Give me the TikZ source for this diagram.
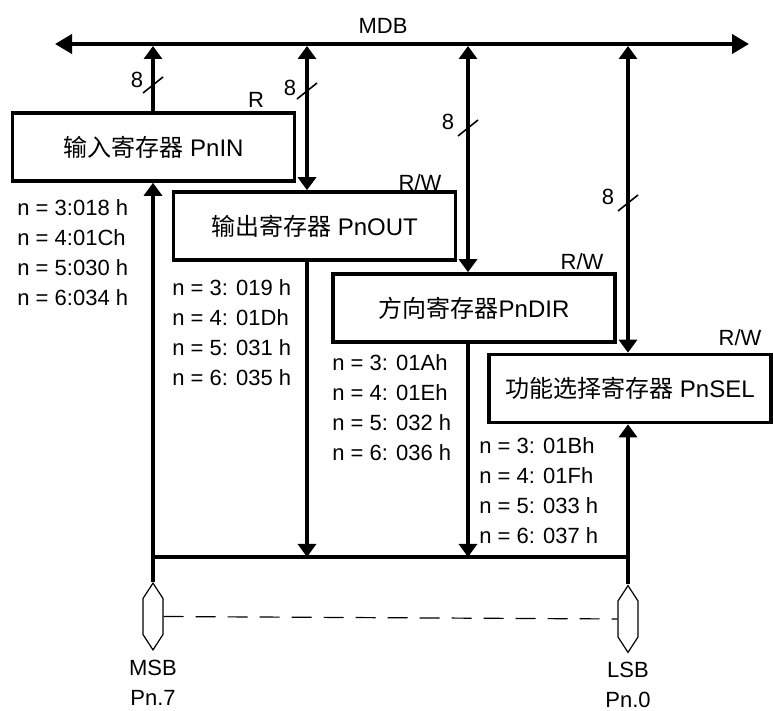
\documentclass[tikz,border=0pt]{standalone}
\usepackage{fontspec}
\setmainfont{Liberation Sans}
\newfontfamily\cjk{Noto Sans CJK SC}
\usepackage{tikz}
\usetikzlibrary{arrows.meta,shapes.symbols}
\newcommand\zhtext[1]{{\cjk #1}}

\begin{document}
\begin{tikzpicture}[
  x=0.5pt,y=-0.5pt,
  font=\fontsize{11}{15}\selectfont,
  reg/.style={draw,line width=1.8pt,minimum width=141pt,minimum height=34pt,
    inner sep=0pt,font=\fontsize{12}{14}\selectfont},
  addr/.style={anchor=north west,align=left,inner sep=0pt},
  wire/.style={line width=1.7pt},
  arrow/.style={wire,-{Triangle[length=6.5pt,width=9pt]}},
  both/.style={wire,{Triangle[length=6.5pt,width=9pt]}-{Triangle[length=6.5pt,width=9pt]}},
  bus/.style={line width=2pt,{Triangle[length=8.5pt,width=9.5pt]}-{Triangle[length=8.5pt,width=9.5pt]}},
  slash/.style={line width=0.8pt},
  port/.style={draw,line width=0.6pt,shape=signal,signal to=north and south,
    signal pointer angle=66,minimum width=10pt,minimum height=18pt,inner sep=0pt}
]
\useasboundingbox (0,0) rectangle (773,711);

\coordinate (mdbl) at (55,44);
\coordinate (mdbr) at (749,44);
\coordinate (t2) at (307,44);
\coordinate (t3) at (468,44);
\coordinate (t4) at (628,44);
\coordinate (bl) at (153,557);
\coordinate (br) at (628,557);

\node[reg] (pnin) at (153.5,147) {\zhtext{输入寄存器} PnIN};
\node[reg] (pnout) at (314.5,226) {\zhtext{输出寄存器} PnOUT};
\node[reg] (pndir) at (474,308) {\zhtext{方向寄存器}PnDIR};
\node[reg] (pnsel) at (630,388.5) {\zhtext{功能选择寄存器} PnSEL};

\node (mdb) at (383,26) {MDB};
\node (accin) at (256,100) {R};
\node (accout) at (420,183) {R/W};
\node (accdir) at (582,262) {R/W};
\node (accsel) at (740,338) {R/W};

\node[addr] (addrin) at (17,199) {n = 3:018 h\\n = 4:01Ch\\n = 5:030 h\\n = 6:034 h};
\node[addr] (addrout) at (172,279) {n = 3: 019 h\\n = 4: 01Dh\\n = 5: 031 h\\n = 6: 035 h};
\node[addr] (addrdir) at (332,354) {n = 3: 01Ah\\n = 4: 01Eh\\n = 5: 032 h\\n = 6: 036 h};
\node[addr] (addrsel) at (479,437) {n = 3: 01Bh\\n = 4: 01Fh\\n = 5: 033 h\\n = 6: 037 h};

\node[port] (msb) at (153,616.5) {};
\node[port] (lsb) at (628,619) {};
\node[anchor=north,align=center,inner sep=0pt] (msbtxt) at (153,660) {MSB\\Pn.7};
\node[anchor=north,align=center,inner sep=0pt] (lsbtxt) at (628,662) {LSB\\Pn.0};

\draw[bus] (mdbl) -- (mdbr);
\draw[arrow,shorten >=1pt] (pnin.north -| bl) -- (bl |- mdbl);
\draw[both,shorten <=1pt] (t2) -- (t2 |- pnout.north);
\draw[both,shorten <=1pt] (t3) -- (t3 |- pndir.north);
\draw[both,shorten <=1pt] (t4) -- (t4 |- pnsel.north);

\node (w1) at (137,80) {8};
\node (w2) at (290,88) {8};
\node (w3) at (448,122) {8};
\node (w4) at (608,197) {8};
\coordinate (s1) at (153,85);
\coordinate (s2) at (307,91);
\coordinate (s3) at (468,128);
\coordinate (s4) at (628,203);
\draw[slash] (s1) +(-10,8) -- +(10,-8);
\draw[slash] (s2) +(-10,8) -- +(10,-8);
\draw[slash] (s3) +(-10,8) -- +(10,-8);
\draw[slash] (s4) +(-10,8) -- +(10,-8);

\draw[arrow] (t2 |- pnout.south) -- (t2 |- bl);
\draw[arrow] (t3 |- pndir.south) -- (t3 |- bl);
\draw[wire] (bl) -- (br);
\draw[arrow] (msb.north) -- (msb.north |- pnin.south);
\draw[arrow] (lsb.north) -- (lsb.north |- pnsel.south);
\draw[line width=0.6pt,dash pattern=on 10pt off 6pt] (msb.east) -- (lsb.west);
\end{tikzpicture}
\end{document}
